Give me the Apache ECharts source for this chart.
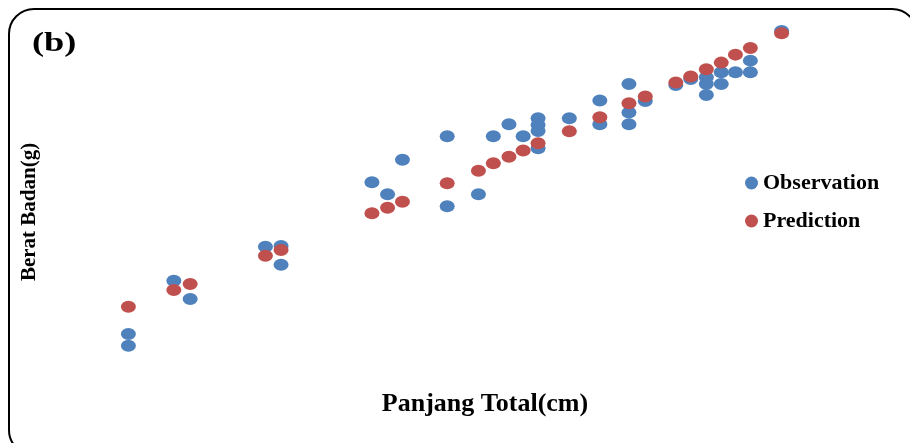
<!DOCTYPE html>
<html>
<head>
<meta charset="utf-8">
<script src="https://cdn.jsdelivr.net/npm/echarts@6/dist/echarts.min.js"></script>
<style>
  html, body { margin: 0; padding: 0; background: #fff; }
  #chart { width: 910px; height: 443px; }
</style>
</head>
<body>
<div id="chart"></div>
<script>
// values (no ticks shown, so units are relative 0..100)
const obsLength = [4.0, 4.0, 10.4, 12.7, 23.3, 25.5, 25.5, 38.3, 40.5, 42.6, 48.9, 48.9, 53.3, 55.4, 57.6, 59.6,
  61.7, 61.7, 61.7, 61.7, 66.1, 70.4, 70.4, 74.5, 74.5, 74.5, 76.8, 81.1, 83.2, 85.4, 85.4, 85.4,
  87.5, 87.5, 89.5, 91.6, 91.6, 96.0];
const obsWeight = [5.7, 2.2, 21.7, 16.2, 31.9, 32.1, 26.5, 51.3, 47.7, 58.0, 65.1, 44.1, 47.7, 65.1, 68.7, 65.1,
  70.5, 68.5, 66.7, 61.5, 70.5, 75.8, 68.7, 80.8, 72.2, 68.7, 75.7, 80.5, 82.3, 82.8, 80.8, 77.5,
  84.3, 80.8, 84.3, 87.8, 84.3, 96.7];

const predLength = [4.0, 10.4, 12.7, 23.3, 25.5, 38.3, 40.5, 42.6, 48.9, 53.3, 55.4, 57.6, 59.6, 61.7, 66.1,
  70.4, 74.5, 76.8, 81.1, 83.2, 85.4, 87.5, 89.5, 91.6, 96.0];
const predWeight = [13.9, 18.9, 20.7, 29.2, 30.9, 42.0, 43.6, 45.4, 51.0, 54.7, 57.0, 58.9, 60.8, 63.0, 66.6,
  70.8, 75.0, 77.0, 81.2, 83.0, 85.2, 87.2, 89.6, 91.6, 96.0];

const seriesNames = ['Observation', 'Prediction'];
const seriesColors = ['#4F81BD', '#C0504D'];

const zip = (xs, ys) => xs.map((x, i) => [x, ys[i]]);
const ellipse = 'path://M0,50 A50,50 0 1,1 100,50 A50,50 0 1,1 0,50 Z';

const chart = echarts.init(document.getElementById('chart'));
const serif = '"Liberation Serif", "Times New Roman", serif';

const option = {
  animation: false,
  color: seriesColors,
  graphic: [
    {
      type: 'rect',
      shape: { x: 9, y: 9, width: 908, height: 446, r: 25 },
      style: { fill: 'none', stroke: '#000', lineWidth: 2 },
      silent: true
    },
    {
      type: 'text',
      left: 32,
      top: 30,
      scaleX: 1.3,
      style: { text: '(b)', font: 'bold 28px ' + serif, fill: '#000' }
    }
  ],
  legend: {
    orient: 'vertical',
    left: 740,
    top: 167,
    icon: 'circle',
    itemWidth: 13,
    itemHeight: 13,
    itemGap: 16,
    data: seriesNames,
    textStyle: {
      fontFamily: serif,
      fontWeight: 'bold',
      fontSize: 22,
      color: '#000'
    }
  },
  grid: {
    left: 100,
    right: 100,
    top: 20,
    bottom: 90
  },
  xAxis: {
    type: 'value',
    min: 0,
    max: 100,
    name: 'Panjang Total(cm)',
    nameLocation: 'middle',
    nameGap: 38,
    nameTextStyle: { fontFamily: serif, fontWeight: 'bold', fontSize: 26, color: '#000', padding: [0, 0, 0, 60] },
    axisLine: { show: false },
    axisTick: { show: false },
    axisLabel: { show: false },
    splitLine: { show: false }
  },
  yAxis: {
    type: 'value',
    min: 0,
    max: 100,
    name: 'Berat Badan(g)',
    nameLocation: 'middle',
    nameGap: 60,
    nameTextStyle: { fontFamily: serif, fontWeight: 'bold', fontSize: 21, color: '#000', padding: [0, 51, 0, 0] },
    axisLine: { show: false },
    axisTick: { show: false },
    axisLabel: { show: false },
    splitLine: { show: false }
  },
  series: [
    {
      name: 'Observation',
      type: 'scatter',
      symbol: ellipse,
      symbolSize: [15, 12],
      itemStyle: { opacity: 1 },
      data: zip(obsLength, obsWeight)
    },
    {
      name: 'Prediction',
      type: 'scatter',
      symbol: ellipse,
      symbolSize: [15, 12],
      itemStyle: { opacity: 1 },
      data: zip(predLength, predWeight)
    }
  ]
};

option && chart.setOption(option);
</script>
</body>
</html>
